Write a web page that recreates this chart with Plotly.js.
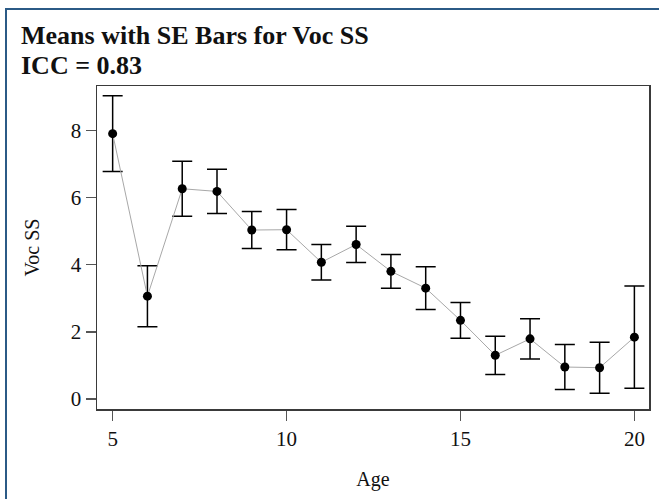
<!DOCTYPE html>
<html>
<head>
<meta charset="utf-8">
<script src="https://cdn.plot.ly/plotly-3.0.1.min.js"></script>
<style>
html,body{margin:0;padding:0;background:#fff;}
#wrap{position:relative;width:659px;height:499px;overflow:hidden;}
#chart{width:659px;height:499px;}
#frame{position:absolute;left:5px;top:8px;width:700px;height:600px;border-left:2px solid #2b5a86;border-top:2px solid #2b5a86;pointer-events:none;}
</style>
</head>
<body>
<div id="wrap"><div id="chart"></div><div id="frame"></div></div>
<script>
const ages = [5, 6, 7, 8, 9, 10, 11, 12, 13, 14, 15, 16, 17, 18, 19, 20];
const means = [7.90, 3.06, 6.26, 6.18, 5.03, 5.04, 4.07, 4.60, 3.80, 3.30, 2.34, 1.30, 1.79, 0.95, 0.93, 1.84];
const se = [1.13, 0.91, 0.82, 0.66, 0.55, 0.60, 0.53, 0.54, 0.50, 0.64, 0.53, 0.57, 0.60, 0.67, 0.76, 1.52];
const xTicks = [5, 10, 15, 20];
const yTicks = [0, 2, 4, 6, 8];
const titleLine1 = 'Means with SE Bars for Voc SS';
const titleLine2 = 'ICC = 0.83';
const xTitle = 'Age';
const yTitle = 'Voc SS';

const serif = 'Liberation Serif, Times New Roman, serif';

const trace = {
  x: ages, y: means, type: 'scatter', mode: 'lines+markers',
  line: {color: '#a8a8a8', width: 1},
  marker: {color: '#000', size: 9},
  error_y: {type: 'data', array: se, visible: true, color: '#000', thickness: 1.5, width: 10},
  hoverinfo: 'none'
};

function axisCommon() {
  return {
    showgrid: false, zeroline: false,
    showline: true, linecolor: '#3a3a3a', linewidth: 1.5, mirror: true,
    ticks: 'outside', ticklen: 10, tickwidth: 1.5, tickcolor: '#555',
    tickfont: {family: serif, size: 21, color: '#111'}
  };
}

const layout = {
  width: 659, height: 499,
  margin: {l: 97, r: 10, t: 86, b: 90},
  paper_bgcolor: '#fff', plot_bgcolor: '#fff',
  showlegend: false,
  font: {family: serif, size: 20, color: '#111'},
  title: {
    text: '<b>' + titleLine1 + '</b>',
    x: 21/659, xanchor: 'left', xref: 'container',
    y: 1 - 35/499, yanchor: 'middle', yref: 'container',
    font: {family: serif, size: 26, color: '#111'}
  },
  annotations: [{
    text: '<b>' + titleLine2 + '</b>',
    xref: 'paper', yref: 'paper',
    x: (19 - 97) / 552, xanchor: 'left',
    y: (409 - 66) / 323, yanchor: 'middle',
    showarrow: false,
    font: {family: serif, size: 26, color: '#111'}
  }],
  xaxis: Object.assign(axisCommon(), {
    range: [4.55, 20.42], tickvals: xTicks, ticktext: xTicks.map(String),
    title: {text: xTitle, font: {family: serif, size: 20, color: '#111'}, standoff: 22}
  }),
  yaxis: Object.assign(axisCommon(), {
    range: [-0.30, 9.32], tickvals: yTicks, ticktext: yTicks.map(String),
    title: {text: yTitle, font: {family: serif, size: 20, color: '#111'}, standoff: 26}
  })
};

Plotly.newPlot('chart', [trace], layout, {staticPlot: true, displayModeBar: false});
</script>
</body>
</html>
